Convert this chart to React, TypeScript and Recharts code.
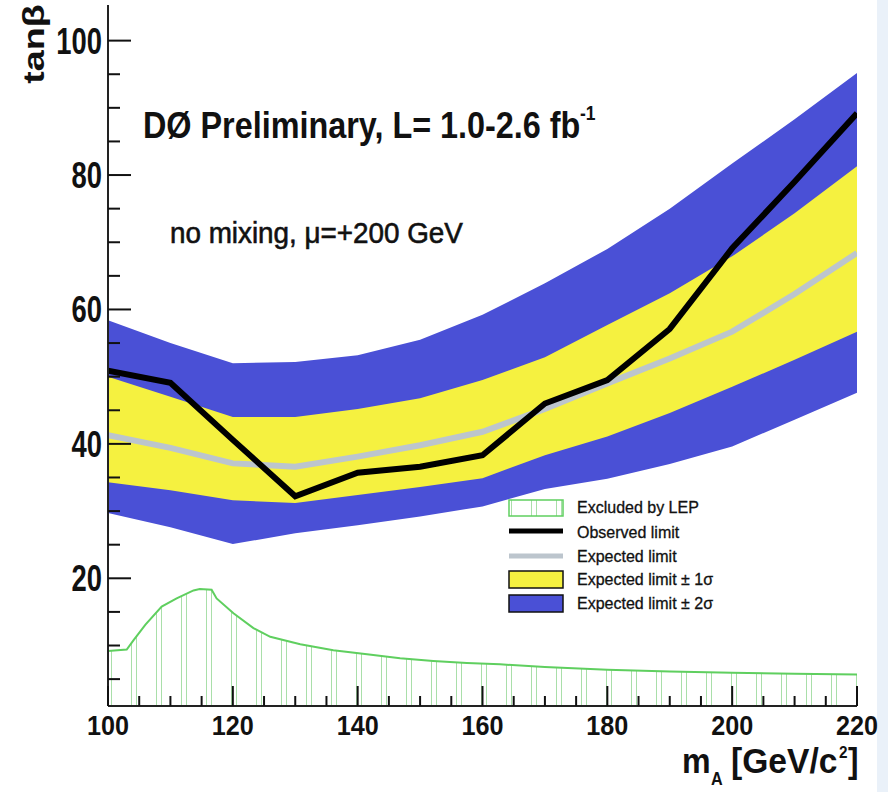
import React from 'react';
import { ComposedChart, Area, Line, XAxis, YAxis } from 'recharts';

// ---- data ----
const massPoints = [100, 110, 120, 130, 140, 150, 160, 170, 180, 190, 200, 210, 220];
const observedLimit = [50.9, 49.1, 40.6, 32.2, 35.7, 36.6, 38.3, 46.0, 49.5, 57.1, 69.1, 79.0, 89.2];
const expectedLimit = [41.3, 39.4, 37.1, 36.6, 38.1, 39.8, 41.8, 45.2, 49.0, 52.7, 56.7, 62.3, 68.4];
const sigma1Low = [34.3, 33.1, 31.6, 31.2, 32.4, 33.6, 34.9, 38.3, 41.1, 44.6, 48.5, 52.5, 56.7];
const sigma1High = [50.0, 47.0, 44.0, 44.0, 45.2, 46.8, 49.5, 52.9, 57.7, 62.4, 67.9, 74.3, 81.3];
const sigma2Low = [29.7, 27.6, 25.1, 26.7, 27.9, 29.2, 30.7, 33.3, 34.8, 37.0, 39.6, 43.6, 47.6];
const sigma2High = [58.4, 55.0, 52.0, 52.2, 53.2, 55.5, 59.2, 63.9, 69.0, 75.0, 81.7, 88.3, 95.2];

const lepMass = [100, 103, 104.1, 106, 108.6, 111, 113.7, 114.7, 116.6, 117.4, 120.1, 123.3, 126, 130.8, 136.1, 141.5, 146.8, 152.1, 157.5, 162.8, 170, 180, 190, 200, 210, 220];
const lepTanb = [9.2, 9.4, 10.8, 13.1, 15.8, 17.0, 18.2, 18.4, 18.3, 17.0, 14.8, 12.6, 11.3, 10.2, 9.3, 8.7, 8.1, 7.7, 7.4, 7.2, 6.8, 6.4, 6.15, 5.95, 5.8, 5.7];

const xTicks = [100, 105, 110, 115, 120, 125, 130, 135, 140, 145, 150, 155, 160, 165, 170, 175, 180, 185, 190, 195, 200, 205, 210, 215, 220];
const xMajor = [100, 120, 140, 160, 180, 200, 220];
const yTicks = [5, 10, 15, 20, 25, 30, 35, 40, 45, 50, 55, 60, 65, 70, 75, 80, 85, 90, 95, 100];
const yMajor = [20, 40, 60, 80, 100];

const bandData = massPoints.map((m, i) => ({
  m,
  obs: observedLimit[i],
  exp: expectedLimit[i],
  s1: [sigma1Low[i], sigma1High[i]],
  s2: [sigma2Low[i], sigma2High[i]],
}));
const lepData = lepMass.map((m, i) => ({ m, lep: lepTanb[i] }));

const BLUE = '#4a50d6';
const YELLOW = '#f5f140';
const GRAY = '#bcc5cd';
const GREEN = '#5fcf5f';
const FONT = "'Liberation Sans', Arial, Helvetica, sans-serif";

const YTick = (props: any) => {
  const { x, y, payload } = props;
  const major = yMajor.includes(payload.value);
  return (
    <g>
      <line x1={x} y1={y} x2={x + (major ? 23 : 12)} y2={y} stroke="#111" strokeWidth={2} />
      {major && (
        <text
          transform={`translate(${x - 6},${y + 13}) scale(0.74,1)`}
          textAnchor="end"
          fontFamily={FONT}
          fontWeight="bold"
          fontSize={37}
          fill="#111"
        >
          {payload.value}
        </text>
      )}
    </g>
  );
};

const XTick = (props: any) => {
  const { x, y, payload } = props;
  const major = xMajor.includes(payload.value);
  return (
    <g>
      <line x1={x} y1={y} x2={x} y2={y - (major ? 20 : 10)} stroke="#111" strokeWidth={2} />
      {major && (
        <text
          transform={`translate(${x},${y + 29}) scale(0.9,1)`}
          textAnchor="middle"
          fontFamily={FONT}
          fontWeight="bold"
          fontSize={28}
          fill="#111"
        >
          {payload.value}
        </text>
      )}
    </g>
  );
};

const Patterns = () => (
  <defs>
    <pattern id="lepHatch" patternUnits="userSpaceOnUse" width={25} height={10} x={6} y={0}>
      <line x1={0.5} y1={0} x2={0.5} y2={10} stroke="#a9dfa9" strokeWidth={1} />
      <line x1={5.5} y1={0} x2={5.5} y2={10} stroke="#a9dfa9" strokeWidth={1} />
    </pattern>
  </defs>
);

export default function App() {
  return (
    <div style={{ position: 'absolute', left: 0, top: 0, width: 888, height: 792, background: '#fff', overflow: 'hidden' }}>
      <div style={{ position: 'absolute', left: 877, top: 0, width: 11, height: 792, background: '#eaf1f9' }} />
      <svg width={0} height={0} style={{ position: 'absolute' }}>
        <Patterns />
      </svg>
      <div style={{ position: 'absolute', left: 0, top: 0 }}>
        <ComposedChart
          width={888}
          height={792}
          margin={{ top: 5, right: 31, bottom: 0, left: 0 }}
          data={bandData}
        >
          <XAxis
            dataKey="m"
            type="number"
            domain={[100, 220]}
            ticks={xTicks}
            interval={0}
            allowDataOverflow
            height={86}
            tickSize={0}
            tickMargin={0}
            tickLine={false}
            tick={<XTick />}
            axisLine={{ stroke: '#222', strokeWidth: 2 }}
          />
          <XAxis
            xAxisId="top"
            orientation="top"
            type="number"
            domain={[100, 220]}
            height={0}
            tick={false}
            tickLine={false}
            axisLine={{ stroke: '#444', strokeWidth: 1.5 }}
          />
          <YAxis
            type="number"
            domain={[1, 105.3]}
            ticks={yTicks}
            interval={0}
            allowDataOverflow
            width={108}
            tickSize={0}
            tickMargin={0}
            tickLine={false}
            tick={<YTick />}
            axisLine={{ stroke: '#222', strokeWidth: 2 }}
          />
          <YAxis
            yAxisId="right"
            orientation="right"
            type="number"
            domain={[1, 105.3]}
            width={0}
            tick={false}
            tickLine={false}
            axisLine={{ stroke: '#444', strokeWidth: 1.5 }}
          />
          <Area
            data={lepData}
            dataKey="lep"
            type="linear"
            stroke={GREEN}
            strokeWidth={2}
            fill="url(#lepHatch)"
            fillOpacity={1}
            isAnimationActive={false}
            dot={false}
            activeDot={false}
          />
          <Area
            dataKey="s2"
            type="linear"
            stroke="none"
            fill={BLUE}
            fillOpacity={1}
            isAnimationActive={false}
            dot={false}
            activeDot={false}
          />
          <Area
            dataKey="s1"
            type="linear"
            stroke="none"
            fill={YELLOW}
            fillOpacity={1}
            isAnimationActive={false}
            dot={false}
            activeDot={false}
          />
          <Line
            dataKey="exp"
            type="linear"
            stroke={GRAY}
            strokeWidth={6}
            dot={false}
            activeDot={false}
            isAnimationActive={false}
          />
          <Line
            dataKey="obs"
            type="linear"
            stroke="#000"
            strokeWidth={6}
            dot={false}
            activeDot={false}
            isAnimationActive={false}
          />
        </ComposedChart>
      </div>
      <svg width={888} height={792} style={{ position: 'absolute', left: 0, top: 0, pointerEvents: 'none' }}>
        {/* title */}
        <text transform="translate(143,138) scale(0.875,1)" fontFamily={FONT} fontWeight="bold" fontSize={37} fill="#111">
          DØ Preliminary, L= 1.0-2.6 fb
        </text>
        <text transform="translate(580,120) scale(0.875,1)" fontFamily={FONT} fontWeight="bold" fontSize={20} fill="#111">
          -1
        </text>
        <text transform="translate(170,243) scale(0.96,1)" fontFamily={FONT} fontSize={29} fill="#111" stroke="#111" strokeWidth={0.6}>
          no mixing, μ=+200 GeV
        </text>
        {/* y label */}
        <text transform="translate(44,44) rotate(-90) scale(1.3,1)" textAnchor="middle" fontFamily={FONT} fontWeight="bold" fontSize={29} fill="#111">
          tanβ
        </text>
        {/* x label */}
        <g fontFamily={FONT} fontWeight="bold" fill="#111">
          <text transform="translate(682,773) scale(0.92,1)" fontSize={35}>m</text>
          <text transform="translate(711,785) scale(0.9,1)" fontSize={18}>A</text>
          <text transform="translate(731,773) scale(0.96,1)" fontSize={35}>[GeV/c</text>
          <text transform="translate(839,758) scale(0.9,1)" fontSize={17}>2</text>
          <text transform="translate(848,773) scale(0.9,1)" fontSize={35}>]</text>
        </g>
        {/* legend */}
        <g fontFamily={FONT} fontSize={16} fill="#111">
          <rect x={509} y={500} width={54} height={16} fill="url(#lepHatch)" stroke={GREEN} strokeWidth={1.5} />
          <text x={577} y={513} stroke="#111" strokeWidth={0.3}>Excluded by LEP</text>
          <line x1={509} y1={531} x2={563} y2={531} stroke="#000" strokeWidth={5} />
          <text x={577} y={538} stroke="#111" strokeWidth={0.3}>Observed limit</text>
          <line x1={509} y1={556} x2={563} y2={556} stroke={GRAY} strokeWidth={5} />
          <text x={577} y={562} stroke="#111" strokeWidth={0.3}>Expected limit</text>
          <rect x={509} y={571} width={54} height={17} fill={YELLOW} stroke="#111" strokeWidth={1.5} />
          <text x={577} y={585} stroke="#111" strokeWidth={0.3}>Expected limit ± 1σ</text>
          <rect x={509} y={595} width={54} height={17} fill={BLUE} stroke="#111" strokeWidth={1.5} />
          <text x={577} y={609} stroke="#111" strokeWidth={0.3}>Expected limit ± 2σ</text>
        </g>
      </svg>
    </div>
  );
}
